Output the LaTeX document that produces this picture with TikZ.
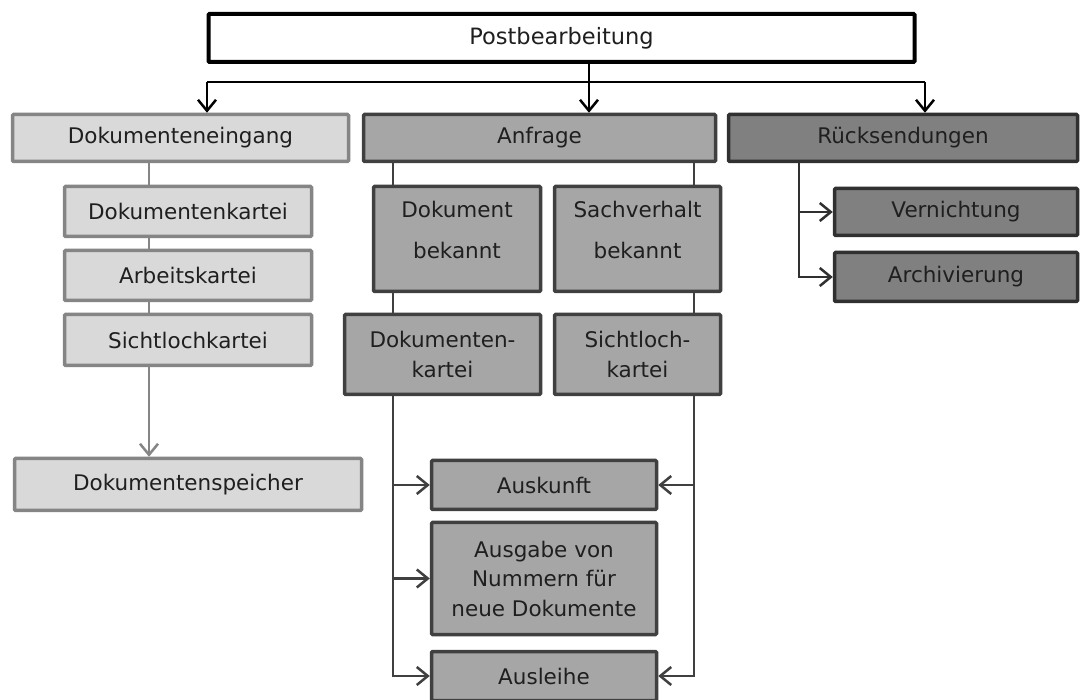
\documentclass[tikz,border=0pt]{standalone}
\usepackage{fontspec}
\setmainfont{DejaVu Sans}
\usetikzlibrary{arrows.meta,positioning}

\definecolor{lightfill}{HTML}{D9D9D9}
\definecolor{lightline}{HTML}{858585}
\definecolor{midfill}{HTML}{A6A6A6}
\definecolor{midline}{HTML}{404040}
\definecolor{darkfill}{HTML}{808080}
\definecolor{darkline}{HTML}{303030}

\begin{document}
\begin{tikzpicture}[x=1pt, y=-1pt,
    every node/.style={font=\fontsize{21.5}{29.5}\selectfont, text=black!88, align=center, inner sep=0pt},
    box/.style={rectangle, draw, line width=3.5pt, rounded corners=1pt},
    lightbox/.style={box, fill=lightfill, draw=lightline},
    midbox/.style={box, fill=midfill, draw=midline},
    darkbox/.style={box, fill=darkfill, draw=darkline},
    toparrow/.style={draw=black, line width=2.5pt},
    greyline/.style={draw=lightline, line width=2.5pt},
    midconn/.style={draw=midline, line width=2.5pt},
    darkconn/.style={draw=darkline, line width=2.5pt},
    tip/.style={-{Straight Barb[length=11pt,width=18pt]}}
]
    \fill[white] (0,0) rectangle (1080,700);
    \useasboundingbox (0,0) rectangle (1080,700);

    % Top level
    \node[box, line width=4pt, draw=black, fill=white, minimum width=706pt, minimum height=48pt,
          font=\fontsize{22.5}{29}\selectfont] (post) at (561.5,38) {Postbearbeitung};

    % Three branches
    \node[lightbox, minimum width=336pt, minimum height=47pt] (eingang) at (180.5,138) {Dokumenteneingang};
    \node[midbox, minimum width=352pt, minimum height=47pt] (anfrage) at (539.5,138) {Anfrage};
    \node[darkbox, minimum width=349pt, minimum height=47pt] (rueck) at (903,138) {Rücksendungen};

    % Dokumenteneingang column
    \node[lightbox, minimum width=247pt, minimum height=50pt] (dokkartei) at (188,211.5) {Dokumentenkartei};
    \node[lightbox, minimum width=247pt, minimum height=50pt] (arbkartei) at (188,275.5) {Arbeitskartei};
    \node[lightbox, minimum width=247pt, minimum height=51pt] (sichtkartei) at (188,340) {Sichtlochkartei};
    \node[lightbox, minimum width=347pt, minimum height=52pt] (speicher) at (188,484.5) {Dokumentenspeicher};

    % Anfrage column
    \node[midbox, minimum width=167pt, minimum height=105pt, text depth=18pt] (dokbek) at (457,239) {Dokument\\[11pt]bekannt};
    \node[midbox, minimum width=166pt, minimum height=105pt, text depth=18pt] (sachbek) at (637.5,239) {Sachverhalt\\[11pt]bekannt};
    \node[midbox, minimum width=196pt, minimum height=80pt] (dokkarteiA) at (442.5,354.5) {Dokumenten-\\kartei};
    \node[midbox, minimum width=166pt, minimum height=80pt] (sichtkarteiA) at (637.5,354.5) {Sichtloch-\\kartei};
    \node[midbox, minimum width=225pt, minimum height=49pt] (auskunft) at (544,485) {Auskunft};
    \node[midbox, minimum width=225pt, minimum height=112pt] (ausgabe) at (544,578.5) {Ausgabe von\\Nummern für\\neue Dokumente};
    \node[midbox, minimum width=225pt, minimum height=49pt] (ausleihe) at (544,676) {Ausleihe};

    % Rücksendungen column
    \node[darkbox, minimum width=243pt, minimum height=47pt] (vernichtung) at (956,212) {Vernichtung};
    \node[darkbox, minimum width=243pt, minimum height=49pt] (archiv) at (956,277) {Archivierung};

    % Distribution from the top
    \coordinate (split) at (589,82);
    \coordinate (busL) at (207,82);
    \coordinate (busR) at (925,82);
    \draw[toparrow] (post.south -| split) -- (split);
    \draw[toparrow] (busL) -- (busR);
    \draw[toparrow, tip] (busL) -- (busL |- eingang.north);
    \draw[toparrow, tip] (split) -- (split |- anfrage.north);
    \draw[toparrow, tip] (busR) -- (busR |- rueck.north);

    % Left column lines
    \coordinate (lcol) at (149,0);
    \draw[greyline] (eingang.south -| lcol) -- (dokkartei.north -| lcol);
    \draw[greyline] (dokkartei.south -| lcol) -- (arbkartei.north -| lcol);
    \draw[greyline] (arbkartei.south -| lcol) -- (sichtkartei.north -| lcol);
    \draw[greyline, tip] (sichtkartei.south -| lcol) -- (speicher.north -| lcol);

    % Middle column lines
    \coordinate (mL) at (393,0);
    \coordinate (mR) at (694,0);
    \draw[midconn] (anfrage.south -| mL) -- (dokbek.north -| mL);
    \draw[midconn] (dokbek.south -| mL) -- (dokkarteiA.north -| mL);
    \draw[midconn, tip] (dokkarteiA.south -| mL) |- (ausleihe.west);
    \draw[midconn, tip] (auskunft.west -| mL) -- (auskunft.west);
    \draw[midconn, tip] (ausgabe.west -| mL) -- (ausgabe.west);
    \draw[midconn] (anfrage.south -| mR) -- (sachbek.north -| mR);
    \draw[midconn] (sachbek.south -| mR) -- (sichtkarteiA.north -| mR);
    \draw[midconn, tip] (sichtkarteiA.south -| mR) |- (ausleihe.east);
    \draw[midconn, tip] (auskunft.east -| mR) -- (auskunft.east);

    % Right column lines
    \coordinate (rL) at (799,0);
    \draw[darkconn, tip] (rueck.south -| rL) |- (archiv.west);
    \draw[darkconn, tip] (vernichtung.west -| rL) -- (vernichtung.west);
\end{tikzpicture}
\end{document}
